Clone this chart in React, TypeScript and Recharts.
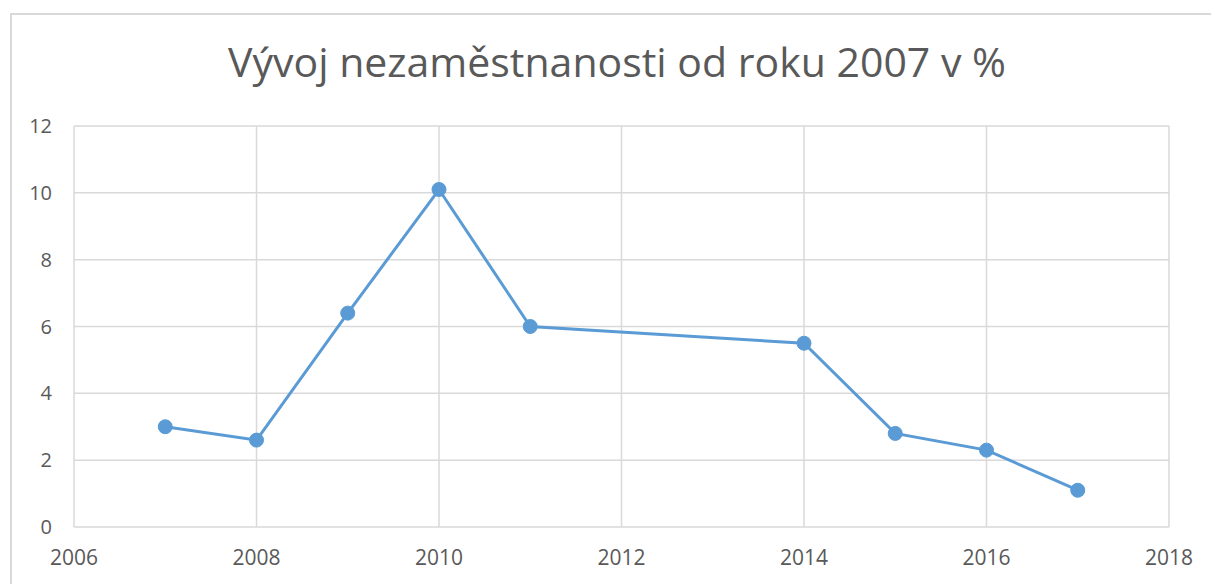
import { LineChart, Line, XAxis, YAxis, CartesianGrid } from "recharts";

const years = [2007, 2008, 2009, 2010, 2011, 2014, 2015, 2016, 2017];
const unemployment = [3.0, 2.6, 6.4, 10.1, 6.0, 5.5, 2.8, 2.3, 1.1];
const xTicks = [2006, 2008, 2010, 2012, 2014, 2016, 2018];
const yTicks = [0, 2, 4, 6, 8, 10, 12];

const data = years.map((year, i) => ({ year, value: unemployment[i] }));

const font = "'Open Sans', sans-serif";
const textColor = "#595959";
const gridColor = "#D9D9D9";
const lineColor = "#5B9BD5";

export default function App() {
    return (
        <div
            style={{
                position: "absolute",
                left: 0,
                top: 0,
                width: 1211,
                height: 584,
                overflow: "hidden",
                background: "#fff",
                fontFamily: font,
            }}
        >
            <div
                style={{
                    position: "absolute",
                    left: 10,
                    top: 13,
                    width: 1240,
                    height: 620,
                    border: `2px solid ${gridColor}`,
                    boxSizing: "border-box",
                }}
            />
            <div
                style={{
                    position: "absolute",
                    left: 0,
                    top: 36,
                    width: 1234,
                    textAlign: "center",
                    fontSize: 41,
                    lineHeight: "50px",
                    color: textColor,
                    whiteSpace: "nowrap",
                }}
            >
                Vývoj nezaměstnanosti od roku 2007 v %
            </div>
            <div style={{ position: "absolute", left: 0, top: 0 }}>
                <LineChart
                    width={1211}
                    height={584}
                    data={data}
                    margin={{ top: 126, right: 42, bottom: 17, left: 14 }}
                >
                    <CartesianGrid stroke={gridColor} strokeWidth={1.5} />
                    <XAxis
                        dataKey="year"
                        type="number"
                        domain={[2006, 2018]}
                        ticks={xTicks}
                        height={40}
                        axisLine={false}
                        tickLine={false}
                        tickSize={0}
                        tickMargin={23}
                        tick={{ fill: textColor, fontSize: 21, fontFamily: font }}
                    />
                    <YAxis
                        type="number"
                        domain={[0, 12]}
                        ticks={yTicks}
                        width={60}
                        axisLine={false}
                        tickLine={false}
                        tickSize={0}
                        tickMargin={22}
                        tick={{ fill: textColor, fontSize: 20, fontFamily: font }}
                    />
                    <Line
                        type="linear"
                        dataKey="value"
                        stroke={lineColor}
                        strokeWidth={3}
                        dot={{ r: 7, fill: lineColor, stroke: lineColor, strokeWidth: 1 }}
                        isAnimationActive={false}
                    />
                </LineChart>
            </div>
        </div>
    );
}
